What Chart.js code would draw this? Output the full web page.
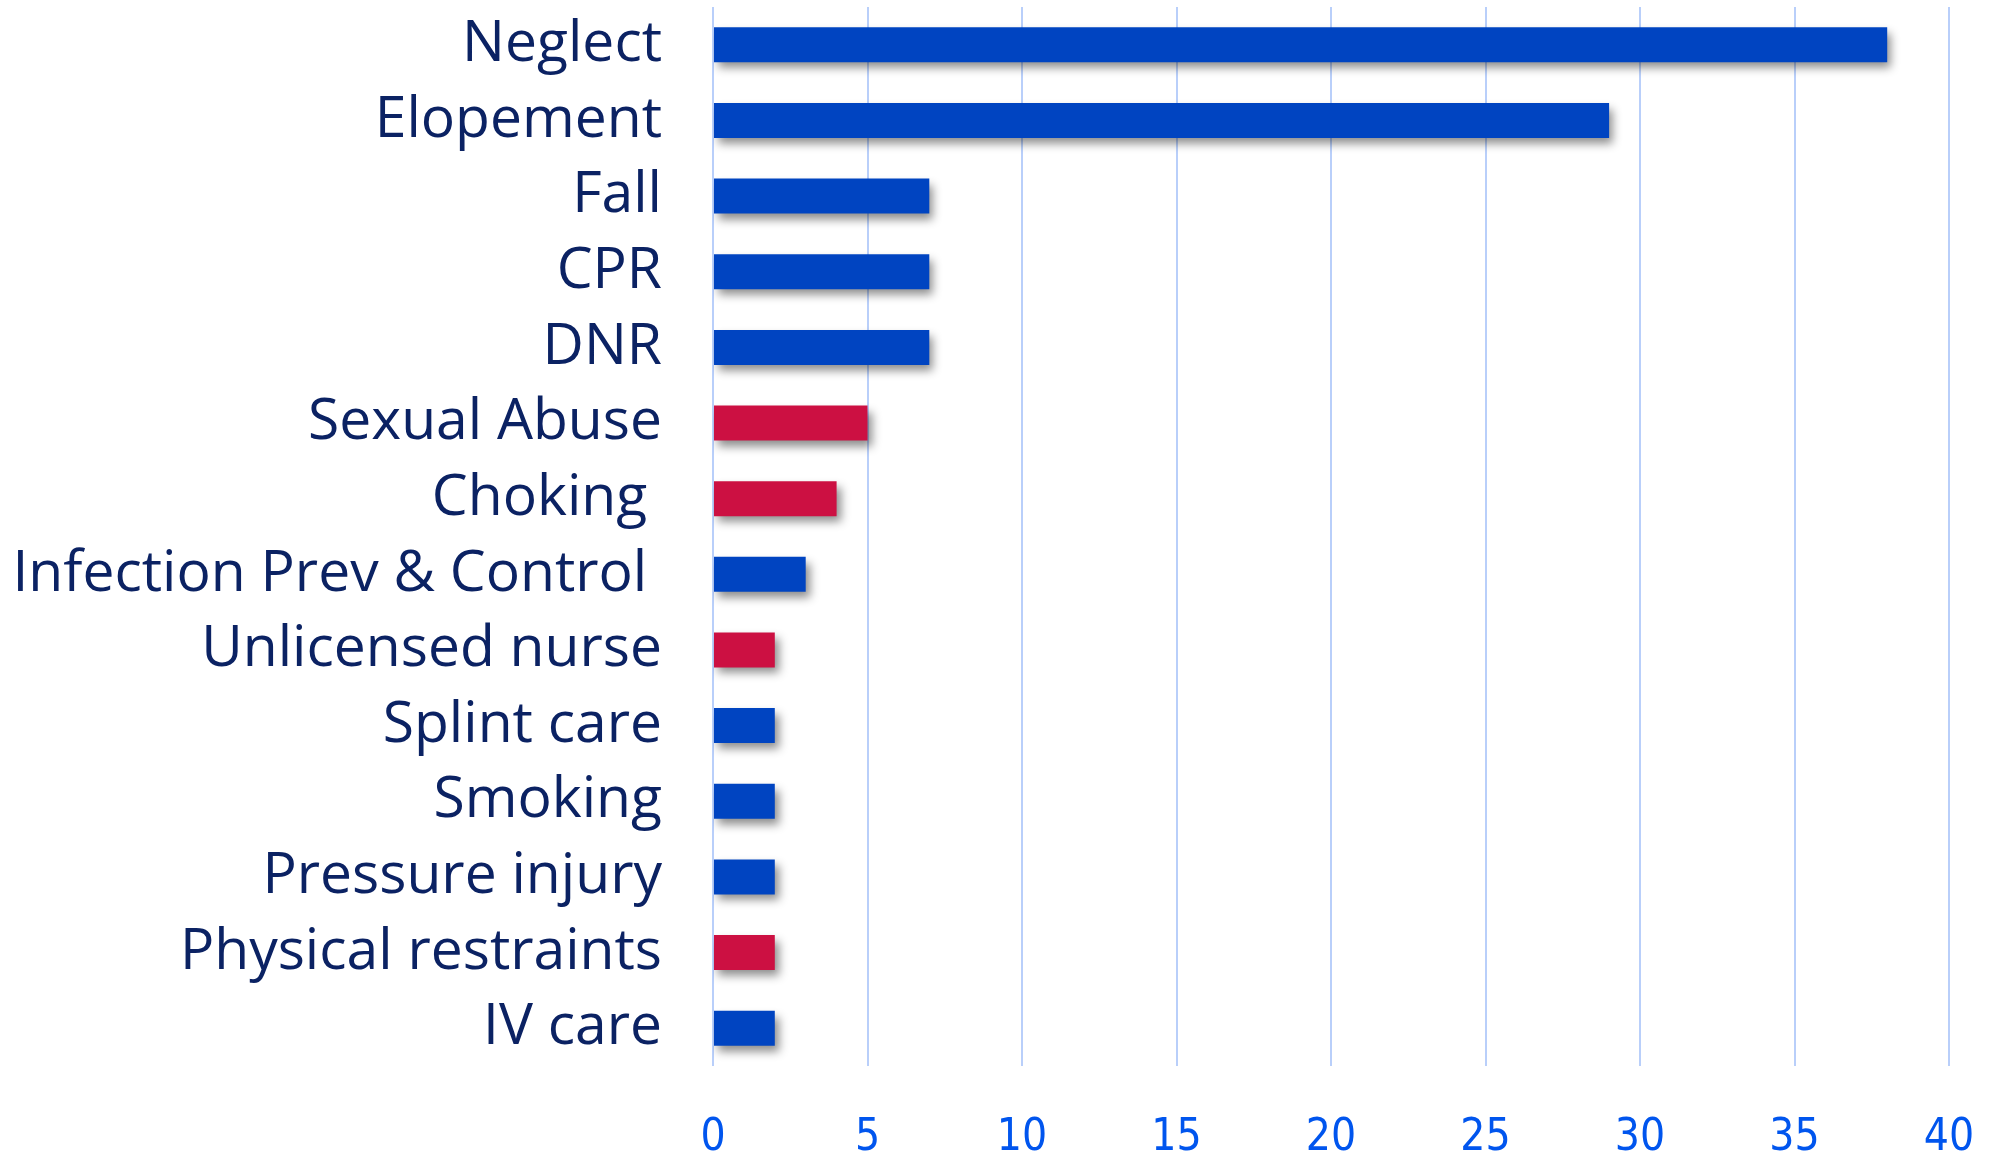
<!DOCTYPE html>
<html>
<head>
<meta charset="utf-8">
<script src="https://cdn.jsdelivr.net/npm/chart.js@4.4.0/dist/chart.umd.min.js"></script>
<style>
html,body{margin:0;padding:0;background:#fff;}
#wrap{width:2003px;height:1155px;position:relative;}
</style>
</head>
<body>
<div id="wrap"><canvas id="c" width="2003" height="1155"></canvas></div>
<script>
const categories = ["Neglect","Elopement","Fall","CPR","DNR","Sexual Abuse","Choking ","Infection Prev & Control ","Unlicensed nurse","Splint care","Smoking","Pressure injury","Physical restraints","IV care"];
const values = [38,29,7,7,7,5,4,3,2,2,2,2,2,2];
const highlighted = [false,false,false,false,false,true,true,false,true,false,false,false,true,false];
const xTicks = [0,5,10,15,20,25,30,35,40];

const BLUE = "#0044C1";
const RED = "#CC1042";
const barColors = highlighted.map(h => h ? RED : BLUE);

const shadowPlugin = {
  id: 'barShadow',
  beforeDatasetDraw(chart) {
    const ctx = chart.ctx;
    ctx.save();
    ctx.shadowColor = 'rgba(0,0,0,0.45)';
    ctx.shadowBlur = 9;
    ctx.shadowOffsetX = 4;
    ctx.shadowOffsetY = 6;
  },
  afterDatasetDraw(chart) {
    chart.ctx.restore();
  }
};

new Chart(document.getElementById('c'), {
  type: 'bar',
  data: {
    labels: categories,
    datasets: [{
      data: values,
      backgroundColor: barColors,
      borderWidth: 0,
      barPercentage: 0.463,
      categoryPercentage: 1.0
    }]
  },
  plugins: [shadowPlugin],
  options: {
    indexAxis: 'y',
    responsive: false,
    animation: false,
    devicePixelRatio: 1,
    layout: { padding: { top: 7, right: 54, left: 0, bottom: 0 } },
    plugins: { legend: { display: false }, tooltip: { enabled: false } },
    scales: {
      x: {
        min: 0, max: 40,
        afterBuildTicks(scale) { scale.ticks = xTicks.map(v => ({ value: v })); },
        afterFit(scale) { scale.height = 89; scale.paddingLeft = 0; scale.paddingRight = 0; },
        grid: { color: 'rgba(185,207,250,1)', lineWidth: 2, drawTicks: false },
        border: { display: false },
        ticks: {
          color: '#0055EE',
          font: { family: '"Liberation Sans Narrow", "DejaVu Sans Condensed", sans-serif', size: 44 },
          padding: 46
        }
      },
      y: {
        afterFit(scale) { scale.width = 713; scale.paddingTop = 0; scale.paddingBottom = 0; },
        grid: { display: false, drawTicks: false },
        border: { display: false },
        ticks: {
          color: '#0B2263',
          font: { family: '"Open Sans", sans-serif', size: 57 },
          padding: 51,
          autoSkip: false
        }
      }
    }
  }
});
</script>
</body>
</html>
